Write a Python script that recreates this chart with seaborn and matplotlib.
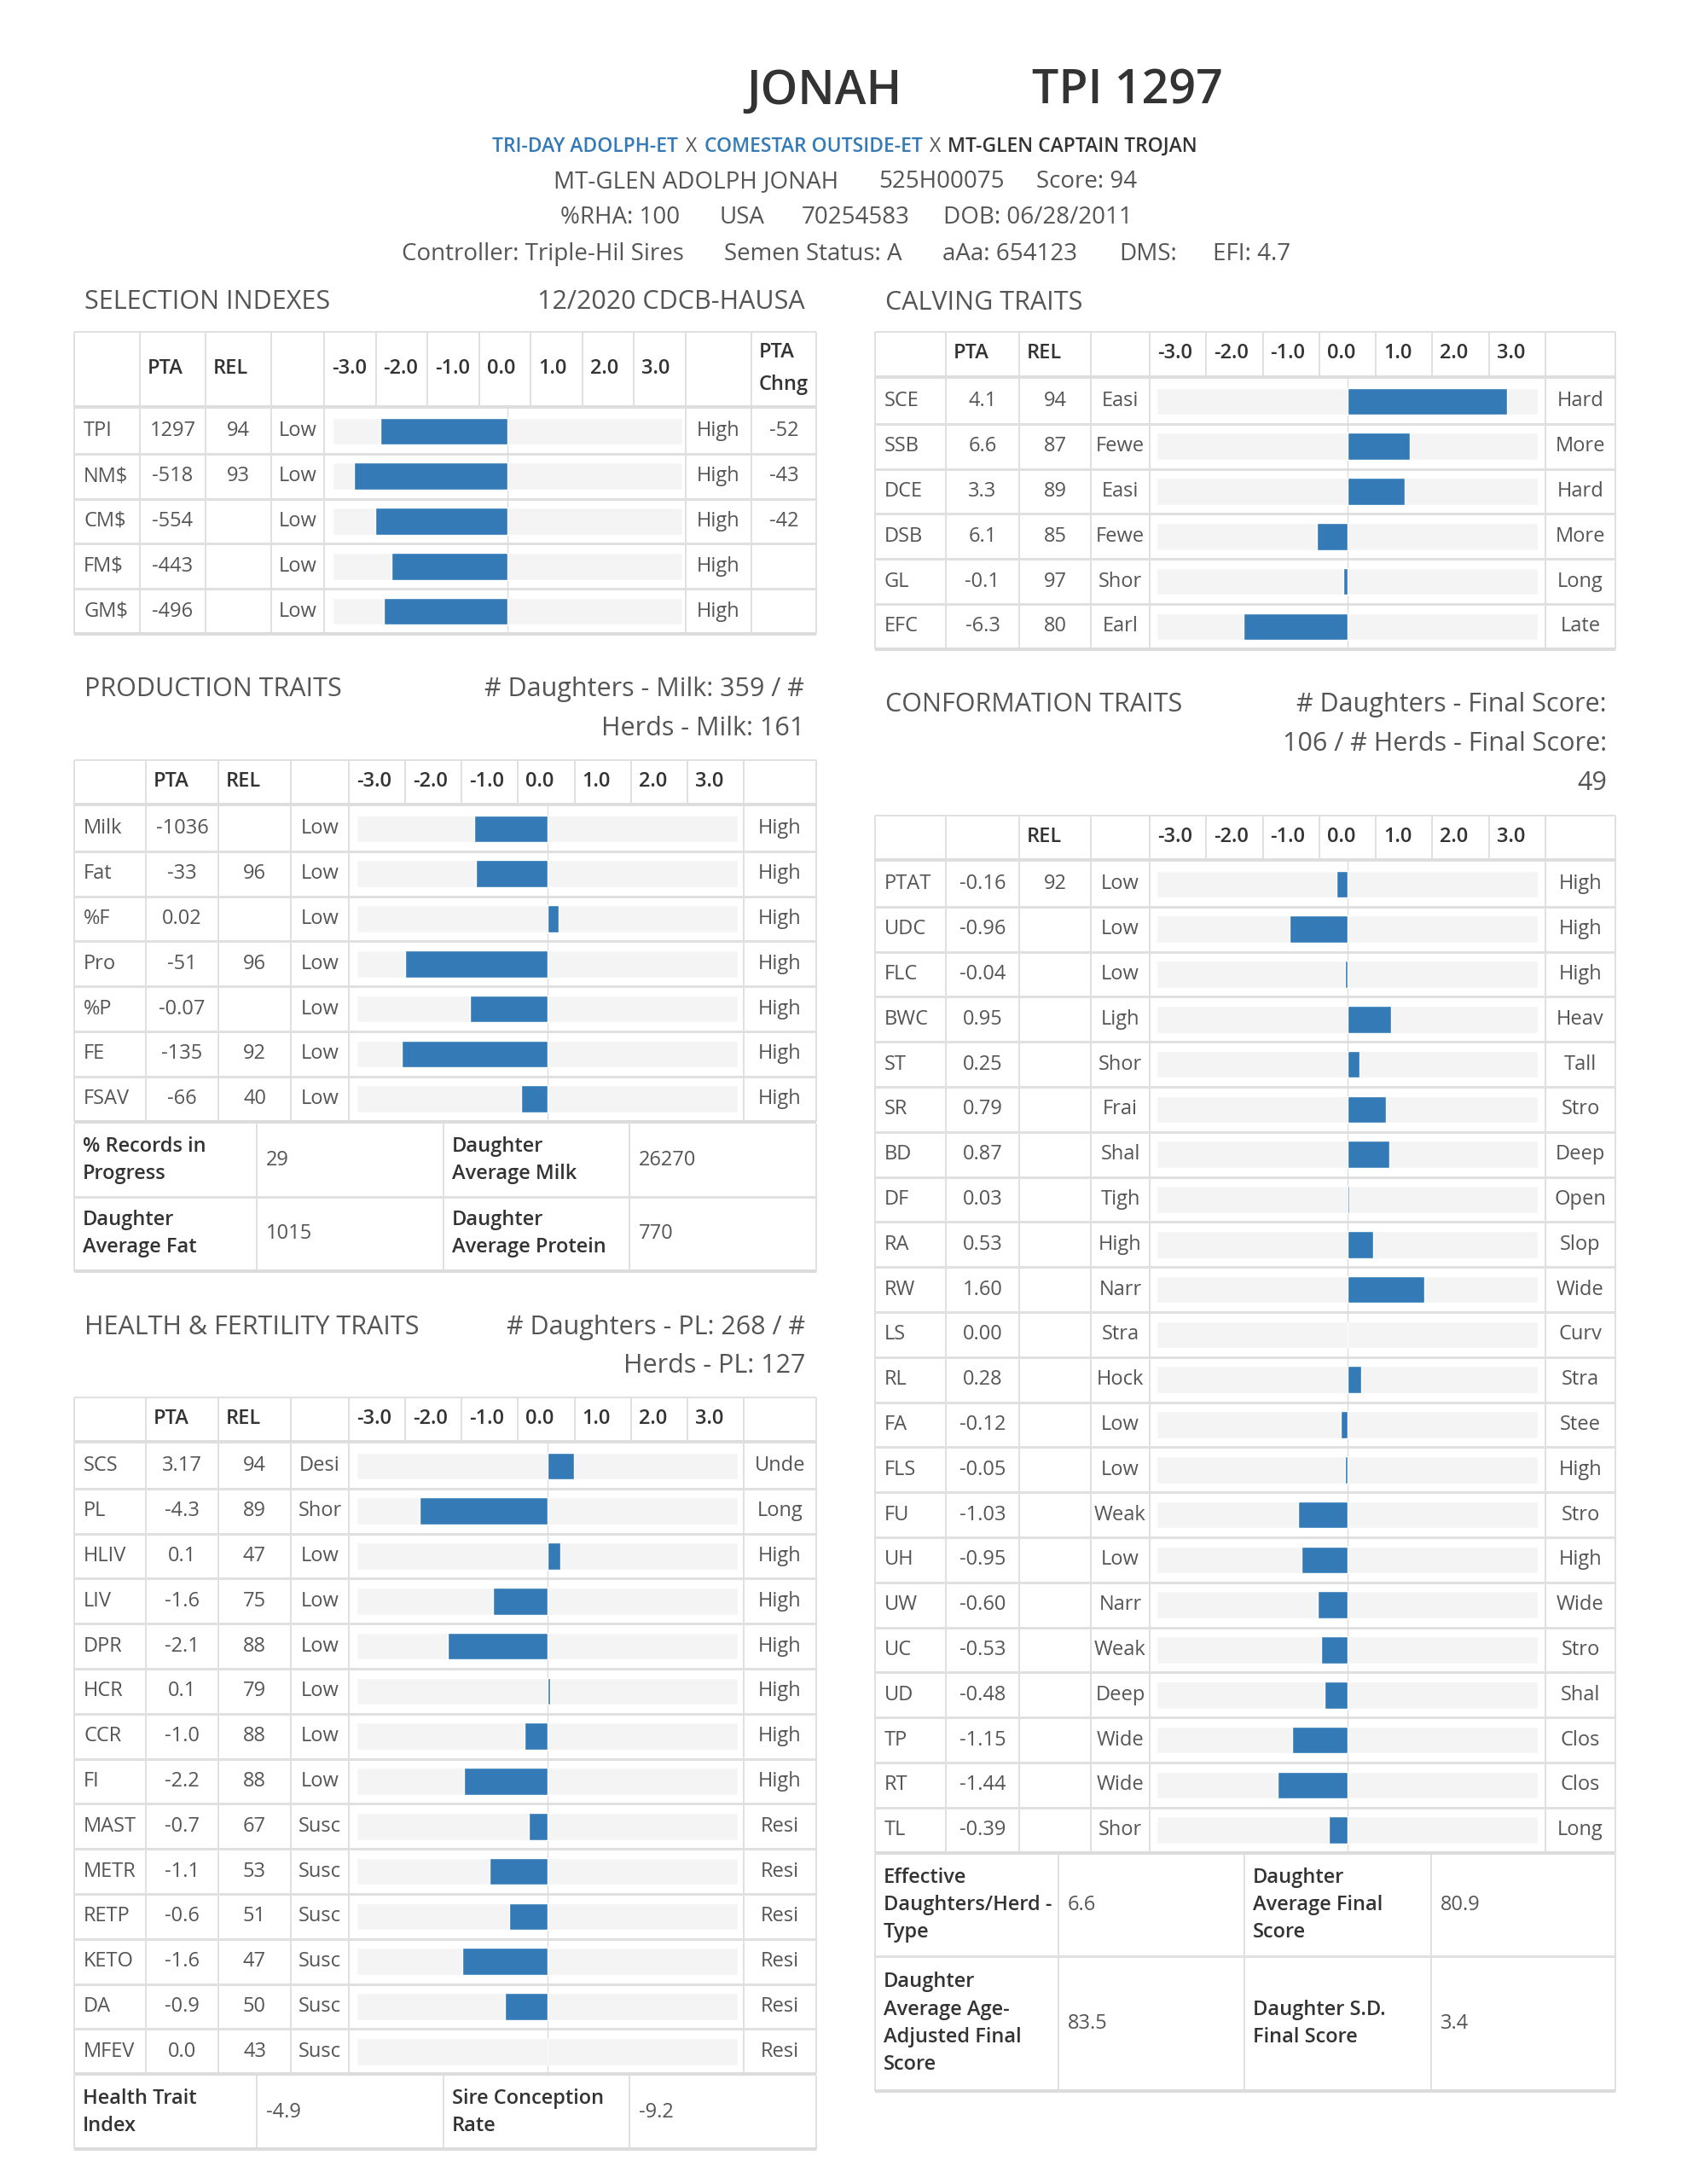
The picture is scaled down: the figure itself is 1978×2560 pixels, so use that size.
import numpy as np
import pandas as pd
import matplotlib
matplotlib.use("Agg")
import matplotlib.pyplot as plt
import seaborn as sns

# --- DATA ---
sel_traits = ["TPI", "NM$", "CM$", "FM$", "GM$"]
sel_pta = ["1297", "-518", "-554", "-443", "-496"]
sel_rel = ["94", "93", "", "", ""]
sel_low = ["Low"] * 5
sel_high = ["High"] * 5
sel_chng = ["-52", "-43", "-42", "", ""]
sel_bar = [-2.47, -2.98, -2.57, -2.25, -2.41]

calv_traits = ["SCE", "SSB", "DCE", "DSB", "GL", "EFC"]
calv_pta = ["4.1", "6.6", "3.3", "6.1", "-0.1", "-6.3"]
calv_rel = ["94", "87", "89", "85", "97", "80"]
calv_low = ["Easi", "Fewe", "Easi", "Fewe", "Shor", "Earl"]
calv_high = ["Hard", "More", "Hard", "More", "Long", "Late"]
calv_bar = [2.85, 1.12, 1.03, -0.54, -0.07, -1.85]

prod_traits = ["Milk", "Fat", "%F", "Pro", "%P", "FE", "FSAV"]
prod_pta = ["-1036", "-33", "0.02", "-51", "-0.07", "-135", "-66"]
prod_rel = ["", "96", "", "96", "", "92", "40"]
prod_low = ["Low"] * 7
prod_high = ["High"] * 7
prod_bar = [-1.30, -1.27, 0.20, -2.54, -1.38, -2.60, -0.47]
prod_footer = [["% Records in\nProgress", "29", "Daughter\nAverage Milk", "26270"],
               ["Daughter\nAverage Fat", "1015", "Daughter\nAverage Protein", "770"]]

health_traits = ["SCS", "PL", "HLIV", "LIV", "DPR", "HCR", "CCR", "FI",
                 "MAST", "METR", "RETP", "KETO", "DA", "MFEV"]
health_pta = ["3.17", "-4.3", "0.1", "-1.6", "-2.1", "0.1", "-1.0", "-2.2",
              "-0.7", "-1.1", "-0.6", "-1.6", "-0.9", "0.0"]
health_rel = ["94", "89", "47", "75", "88", "79", "88", "88", "67", "53", "51", "47", "50", "43"]
health_low = ["Desi", "Shor"] + ["Low"] * 6 + ["Susc"] * 6
health_high = ["Unde", "Long"] + ["High"] * 6 + ["Resi"] * 6
health_bar = [0.48, -2.28, 0.24, -0.97, -1.77, 0.06, -0.40, -1.48,
              -0.33, -1.02, -0.68, -1.52, -0.76, 0.0]
health_footer = [["Health Trait\nIndex", "-4.9", "Sire Conception\nRate", "-9.2"]]

conf_traits = ["PTAT", "UDC", "FLC", "BWC", "ST", "SR", "BD", "DF", "RA", "RW", "LS",
               "RL", "FA", "FLS", "FU", "UH", "UW", "UC", "UD", "TP", "RT", "TL"]
conf_pta = ["-0.16", "-0.96", "-0.04", "0.95", "0.25", "0.79", "0.87", "0.03", "0.53", "1.60", "0.00",
            "0.28", "-0.12", "-0.05", "-1.03", "-0.95", "-0.60", "-0.53", "-0.48", "-1.15", "-1.44", "-0.39"]
conf_rel = ["92"] + [""] * 21
conf_low = ["Low", "Low", "Low", "Ligh", "Shor", "Frai", "Shal", "Tigh", "High", "Narr", "Stra",
            "Hock", "Low", "Low", "Weak", "Low", "Narr", "Weak", "Deep", "Wide", "Wide", "Shor"]
conf_high = ["High", "High", "High", "Heav", "Tall", "Stro", "Deep", "Open", "Slop", "Wide", "Curv",
             "Stra", "Stee", "High", "Stro", "High", "Wide", "Stro", "Shal", "Clos", "Clos", "Long"]
conf_bar = [-0.19, -1.03, -0.04, 0.79, 0.22, 0.69, 0.75, 0.04, 0.46, 1.37, 0.0,
            0.25, -0.11, -0.04, -0.88, -0.82, -0.52, -0.46, -0.41, -0.98, -1.24, -0.33]
conf_footer = [["Effective\nDaughters/Herd -\nType", "6.6", "Daughter\nAverage Final\nScore", "80.9"],
               ["Daughter\nAverage Age-\nAdjusted Final\nScore", "83.5", "Daughter S.D.\nFinal Score", "3.4"]]

scale_labels = ["-3.0", "-2.0", "-1.0", "0.0", "1.0", "2.0", "3.0"]

# --- STYLE ---
W, H = 1978, 2560
BLUE = "#337ab7"
TRACK = "#f4f4f4"
LINE = "#e0e0e0"
TXT = "#555555"
DARK = "#333333"
LIM = 3.4
PITCH = 52.8
TITLE = 22

sns.set_theme(style="white")
plt.rcParams['font.family'] = ['Open Sans', 'DejaVu Sans']

fig = plt.figure(figsize=(W / 100, H / 100), dpi=100)
bg = fig.add_axes([0, 0, 1, 1])
bg.set_xlim(0, W)
bg.set_ylim(H, 0)
bg.axis('off')


def txt(x, y, s, size=17, color=TXT, ha="left", va="center", weight="normal", **kw):
    bg.text(x, y, s.replace("$", r"\$"), fontsize=size, color=color, ha=ha, va=va,
            fontweight=weight, **kw)


def hline(x0, x1, y, lw=2, color=LINE):
    bg.plot([x0, x1], [y, y], color=color, lw=lw * 0.72, solid_capstyle="butt")


def vline(x, y0, y1, lw=2, color=LINE):
    bg.plot([x, x], [y0, y1], color=color, lw=lw * 0.72, solid_capstyle="butt")


def px_axes(x0, y0, x1, y1):
    return fig.add_axes([x0 / W, 1 - y1 / H, (x1 - x0) / W, (y1 - y0) / H])


def draw_bars(x0, x1, y0, names, vals):
    n = len(names)
    ax = px_axes(x0, y0, x1, y0 + n * PITCH)
    df = pd.DataFrame({"trait": names, "value": vals})
    ax.barh(np.arange(n), 2 * LIM, left=-LIM, height=0.6, color=TRACK, zorder=0)
    sns.barplot(data=df, x="value", y="trait", orient="h", color=BLUE, saturation=1,
                width=0.6, ax=ax, zorder=2)
    ax.axvline(0, color="#dcdcdc", lw=1, zorder=1)
    ax.set_xlim(-LIM, LIM)
    ax.set_ylim(n - 0.5, -0.5)
    ax.axis('off')


def draw_table(edges, bar_col, track, head_top, head_bot, head_labels, columns, bar_vals):
    left, right = edges[0], edges[-1]
    n = len(columns[0])
    row_top = head_bot + 4
    bottom = row_top + n * PITCH
    # header
    hline(left, right, head_top)
    for i in range(len(edges)):
        vline(edges[i], head_top, bottom)
    sub = np.linspace(edges[bar_col], edges[bar_col + 1], 8)
    for x in sub[1:-1]:
        vline(x, head_top, head_bot)
    hmid = (head_top + head_bot) / 2
    for i, lab in enumerate(head_labels):
        if lab:
            txt(edges[i] + 9, hmid, lab, size=17, color=DARK, weight="semibold", linespacing=1.75)
    for k, lab in enumerate(scale_labels):
        txt(sub[k] + 9, hmid, lab, size=17, color=DARK, weight="semibold")
    hline(left, right, head_bot + 2, lw=4, color="#dedede")
    # rows
    for r in range(n):
        y = row_top + (r + 0.5) * PITCH
        if r > 0:
            hline(left, right, row_top + r * PITCH, lw=3)
        ci = 0
        for i in range(len(edges) - 1):
            if i == bar_col:
                continue
            val = columns[ci][r]
            if i == 0:
                txt(edges[i] + 11, y, val)
            else:
                txt((edges[i] + edges[i + 1]) / 2, y, val, ha="center")
            ci += 1
    hline(left, right, bottom, lw=4, color="#dcdcdc")
    draw_bars(track[0], track[1], row_top, columns[0], bar_vals)
    return bottom


def draw_footer(cols, top, heights, rows):
    y = top
    for h, row in zip(heights, rows):
        for i in range(5):
            vline(cols[i], y, y + h)
        mid = y + h / 2
        txt(cols[0] + 10, mid, row[0], color=DARK, weight="semibold", linespacing=1.45)
        txt(cols[1] + 11, mid, row[1])
        txt(cols[2] + 10, mid, row[2], color=DARK, weight="semibold", linespacing=1.45)
        txt(cols[3] + 11, mid, row[3])
        y += h
        hline(cols[0], cols[4], y, lw=3)
    hline(cols[0], cols[4], y, lw=4, color="#dcdcdc")


# --- HEADER BLOCK ---
txt(875, 108, "JONAH", size=40, color=DARK, weight="semibold")
txt(1210, 108, "TPI 1297", size=40, color=DARK, weight="semibold")

txt(577, 172, "TRI-DAY ADOLPH-ET", size=16.5, color=BLUE, weight="semibold")
txt(804, 172, "X", size=16.5, color=TXT)
txt(826, 172, "COMESTAR OUTSIDE-ET", size=16.5, color=BLUE, weight="semibold")
txt(1090, 172, "X", size=16.5, color=TXT)
txt(1111, 172, "MT-GLEN CAPTAIN TROJAN", size=16.5, color=DARK, weight="semibold")

for x, s in [(649, "MT-GLEN ADOLPH JONAH"), (1030, "525H00075"), (1215, "Score: 94")]:
    txt(x, 213, s, size=20)
for x, s in [(657, "%RHA: 100"), (843, "USA"), (940, "70254583"), (1106, "DOB: 06/28/2011")]:
    txt(x, 255, s, size=20)
for x, s in [(471, "Controller: Triple-Hil Sires"), (849, "Semen Status: A"), (1105, "aAa: 654123"),
             (1312, "DMS:"), (1422, "EFI: 4.7")]:
    txt(x, 298, s, size=20)

# --- SELECTION INDEXES ---
txt(99, 354, "SELECTION INDEXES", size=TITLE)
txt(944, 354, "12/2020 CDCB-HAUSA", size=TITLE, ha="right")
draw_table([87, 164, 241, 318, 380, 804, 881, 957], 4, (390, 800), 389, 475,
           ["", "PTA", "REL", "", "", "", "PTA\nChng"],
           [sel_traits, sel_pta, sel_rel, sel_low, sel_high, sel_chng], sel_bar)

# --- CALVING TRAITS ---
txt(1038, 355, "CALVING TRAITS", size=TITLE)
draw_table([1026, 1109, 1195, 1279, 1348, 1812, 1894], 4, (1356, 1803), 389, 440,
           ["", "PTA", "REL", "", "", ""],
           [calv_traits, calv_pta, calv_rel, calv_low, calv_high], calv_bar)

# --- PRODUCTION TRAITS ---
txt(99, 808, "PRODUCTION TRAITS", size=TITLE)
txt(943, 808, "# Daughters - Milk: 359 / #", size=TITLE, ha="right")
txt(943, 854, "Herds - Milk: 161", size=TITLE, ha="right")
b = draw_table([87, 171, 256, 341, 409, 872, 957], 4, (418, 865), 891, 941,
               ["", "PTA", "REL", "", "", ""],
               [prod_traits, prod_pta, prod_rel, prod_low, prod_high], prod_bar)
draw_footer([87, 301, 520, 738, 957], b + 2, [86, 87], prod_footer)

# --- HEALTH & FERTILITY TRAITS ---
txt(99, 1556, "HEALTH & FERTILITY TRAITS", size=TITLE)
txt(944, 1556, "# Daughters - PL: 268 / #", size=TITLE, ha="right")
txt(944, 1601, "Herds - PL: 127", size=TITLE, ha="right")
b = draw_table([87, 171, 256, 341, 409, 872, 957], 4, (418, 865), 1638, 1688,
               ["", "PTA", "REL", "", "", ""],
               [health_traits, health_pta, health_rel, health_low, health_high], health_bar)
draw_footer([87, 301, 520, 738, 957], b + 2, [86], health_footer)

# --- CONFORMATION TRAITS ---
txt(1038, 826, "CONFORMATION TRAITS", size=TITLE)
txt(1884, 826, "# Daughters - Final Score:", size=TITLE, ha="right")
txt(1884, 872, "106 / # Herds - Final Score:", size=TITLE, ha="right")
txt(1884, 918, "49", size=TITLE, ha="right")
b = draw_table([1026, 1109, 1195, 1279, 1348, 1812, 1894], 4, (1356, 1803), 956, 1006,
               ["", "", "REL", "", "", ""],
               [conf_traits, conf_pta, conf_rel, conf_low, conf_high], conf_bar)
draw_footer([1026, 1241, 1459, 1678, 1894], b + 2, [119, 158], conf_footer)

fig.savefig("out.png", dpi=100, facecolor="white")
